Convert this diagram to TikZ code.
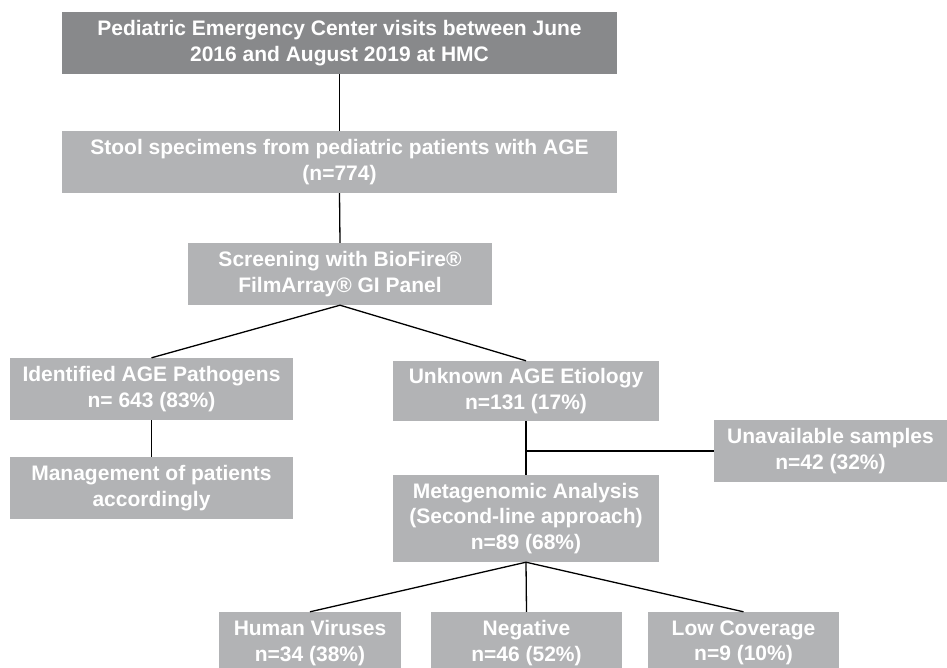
\documentclass[tikz,border=0pt]{standalone}
\usepackage{fontspec}
\setmainfont{Liberation Sans}
\definecolor{boxdark}{HTML}{88898B}
\definecolor{boxlight}{HTML}{B2B3B5}
\tikzset{
  flowbox/.style={fill=boxlight, text=white, align=center, inner sep=0pt,
    font=\fontsize{21}{25.5}\selectfont\bfseries},
  topbox/.style={flowbox, fill=boxdark},
  link/.style={line width=1.3pt, black}
}
\begin{document}
\begin{tikzpicture}[x=1pt, y=-1pt]
  \useasboundingbox (0,0) rectangle (947,668);
  % rows of the flow chart
  \node[topbox, minimum width=555pt, minimum height=62pt] (visits) at (339.5,43)
    {Pediatric Emergency Center visits between June\\2016 and August 2019 at HMC};
  \node[flowbox, minimum width=555pt, minimum height=62pt] (stool) at (339.5,162)
    {Stool specimens from pediatric patients with AGE\\(n=774)};
  \node[flowbox, minimum width=304pt, minimum height=62pt] (screen) at (340,274)
    {Screening with BioFire®\\FilmArray® GI Panel};
  \node[flowbox, minimum width=283pt, minimum height=62pt] (ident) at (151.5,389)
    {Identified AGE Pathogens\\n= 643 (83\%)};
  \node[flowbox, minimum width=266pt, minimum height=60pt] (unknown) at (526,391)
    {Unknown AGE Etiology\\n=131 (17\%)};
  \node[flowbox, minimum width=283pt, minimum height=62pt] (manage) at (151.5,488)
    {Management of patients\\accordingly};
  \node[flowbox, minimum width=233pt, minimum height=62pt] (unavail) at (830.5,451)
    {Unavailable samples\\n=42 (32\%)};
  \node[flowbox, minimum width=266pt, minimum height=87pt] (meta) at (526,518.5)
    {Metagenomic Analysis\\(Second-line approach)\\n=89 (68\%)};
  \node[flowbox, minimum width=182pt, minimum height=62pt] (human) at (310,643)
    {Human Viruses\\n=34 (38\%)};
  \node[flowbox, minimum width=191pt, minimum height=62pt] (negative) at (526.5,643)
    {Negative\\n=46 (52\%)};
  \node[flowbox, minimum width=191pt, minimum height=62pt] (lowcov) at (743.5,643)
    {Low Coverage\\n=9 (10\%)};
  \coordinate (split) at (526,451);
  % connectors
  \draw[link] (visits.south) -- (stool.north);
  \draw[link] (stool.south) -- (screen.north);
  \draw[link] (screen.south) -- (ident.north);
  \draw[link] (screen.south) -- (unknown.north);
  \draw[link] (ident.south) -- (manage.north);
  \draw[link] (unknown.south) -- (meta.north);
  \draw[link] (split) -- (unavail.west);
  \draw[link] (meta.south) -- (human.north);
  \draw[link] (meta.south) -- (negative.north);
  \draw[link] (meta.south) -- (lowcov.north);
\end{tikzpicture}
\end{document}
